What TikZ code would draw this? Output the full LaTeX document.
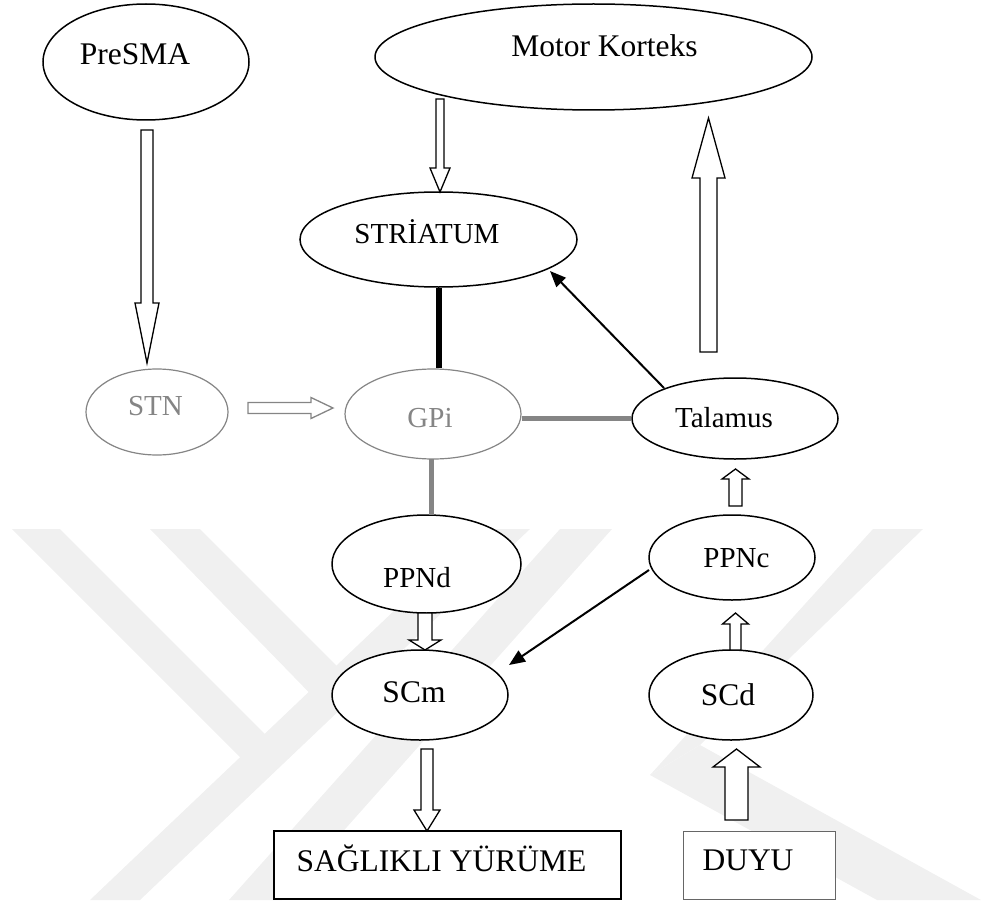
\documentclass[tikz,border=0pt]{standalone}
\usepackage{fontspec}
\setmainfont{Liberation Serif}
\usetikzlibrary{calc,arrows.meta,shapes.geometric}
\definecolor{wmgray}{HTML}{F0F0F0}
\definecolor{midgray}{HTML}{858585}
\newcommand{\blockarr}[6][]{%
  \coordinate (hb) at ($(#3)!#6!(#2)$);
  \draw[blk,#1] ($(#2)!#4!90:(#3)$) -- ($(hb)!#4!90:(#3)$) -- ($(hb)!#5!90:(#3)$) -- (#3)
     -- ($(hb)!#5!-90:(#3)$) -- ($(hb)!#4!-90:(#3)$) -- ($(#2)!#4!-90:(#3)$) -- cycle;}
\begin{document}
\begin{tikzpicture}[x=1pt,y=-1pt,
  ell/.style={ellipse,draw,line width=1.5pt,fill=white,inner sep=0pt},
  gell/.style={ell,draw=midgray,line width=1.2pt},
  lbl/.style={anchor=base,inner sep=0pt,font=\fontsize{29}{34}\selectfont},
  lblb/.style={lbl,font=\fontsize{31.5}{36}\selectfont},
  wm/.style={fill=wmgray,draw=none},
  blk/.style={draw,line width=1.3pt,fill=white,line join=miter},
  thin/.style={line width=2pt,-{Triangle[length=16pt,width=13pt]}}]
\useasboundingbox (0,0) rectangle (981,904);
% watermark
\fill[wm] (480,529) -- (530,529) -- (140,900) -- (90,900) -- cycle;
\fill[wm] (12,529) -- (60,529) -- (289,758) -- (240,757) -- cycle;
\fill[wm] (150,529) -- (200,529) -- (360,689) -- (330,714) -- cycle;
\fill[wm] (560,529) -- (612,529) -- (282,900) -- (229,900) -- cycle;
\fill[wm] (873,529) -- (923,529) -- (700,745) -- (650,775) -- cycle;
\fill[wm] (650,775) -- (700,745) -- (981,900) -- (877,900) -- cycle;
% ellipses
\node[ell,minimum width=206pt,minimum height=116pt] (presma) at (146,62) {};
\node[ell,minimum width=437pt,minimum height=106pt] (motor) at (593.5,57) {};
\node[ell,minimum width=277pt,minimum height=95pt] (striatum) at (438.5,239.5) {};
\node[gell,minimum width=142pt,minimum height=86pt] (stn) at (157,412) {};
\node[gell,minimum width=176pt,minimum height=90pt] (gpi) at (433,414) {};
\node[ell,minimum width=206pt,minimum height=81pt] (talamus) at (735,418.5) {};
\node[ell,minimum width=189pt,minimum height=98pt] (ppnd) at (426.5,564) {};
\node[ell,minimum width=166pt,minimum height=85pt] (ppnc) at (732,557.5) {};
\node[ell,minimum width=176pt,minimum height=90pt] (scm) at (420,695) {};
\node[ell,minimum width=164pt,minimum height=90pt] (scd) at (731,695) {};
% boxes
\node[draw,line width=1.8pt,fill=white,inner sep=0pt,minimum width=347pt,minimum height=68pt] (walk) at (447.5,865) {};
\node[draw=black!60,line width=1pt,fill=white,inner sep=0pt,minimum width=152pt,minimum height=68pt] (duyu) at (759,865) {};
% labels
\node[lblb] (presmaT) at (135,65) {PreSMA};
\node[lblb] (motorT) at (604.5,57) {Motor Korteks};
\node[lbl] (striatumT) at (427,243) {STRİATUM};
\node[lbl,text=midgray] (stnT) at (155.5,415) {STN};
\node[lbl,text=midgray] (gpiT) at (430,427) {GPi};
\node[lbl] (talamusT) at (724,427) {Talamus};
\node[lbl] (ppndT) at (417,587) {PPNd};
\node[lbl] (ppncT) at (736.5,567) {PPNc};
\node[lblb] (scmT) at (414,702) {SCm};
\node[lblb] (scdT) at (728,705) {SCd};
\node[lblb] (walkT) at (441.5,871) {SAĞLIKLI YÜRÜME};
\node[lblb] (duyuT) at (748,870) {DUYU};
% plain connectors
\draw[line width=6pt] (striatum.south) -- (striatum.south |- gpi.north);
\draw[line width=5pt,midgray] (gpi.east |- talamus.west) -- (talamus.west);
\draw[line width=5pt,midgray] (431,459) -- (431,515);
% thin arrows
\coordinate (ts) at (664,388); \coordinate (te) at (550,271);
\draw[thin] (ts) -- (te);
\coordinate (ps) at (649,570); \coordinate (pe) at (509,665);
\draw[thin] (ps) -- (pe);
% block arrows
\coordinate (a1s) at (147,130); \coordinate (a1e) at (147,363);
\blockarr{a1s}{a1e}{6pt}{12pt}{60pt}
\coordinate (a2s) at (248,408); \coordinate (a2e) at (333,408);
\blockarr[draw=midgray]{a2s}{a2e}{5.5pt}{10.5pt}{22pt}
\coordinate (a3s) at (440,99); \coordinate (a3e) at (440,192);
\blockarr{a3s}{a3e}{4pt}{10pt}{24pt}
\coordinate (a4s) at (708.5,352); \coordinate (a4e) at (708.5,118);
\blockarr{a4s}{a4e}{8.5pt}{16.5pt}{60pt}
\coordinate (a5s) at (735.5,506); \coordinate (a5e) at (735.5,469);
\blockarr{a5s}{a5e}{6.5pt}{13.5pt}{10pt}
\coordinate (a6s) at (735.5,650); \coordinate (a6e) at (735.5,613);
\blockarr{a6s}{a6e}{5.5pt}{13pt}{11pt}
\coordinate (a7s) at (425,613); \coordinate (a7e) at (425,650);
\blockarr{a7s}{a7e}{7pt}{16pt}{10pt}
\coordinate (a8s) at (427,749); \coordinate (a8e) at (427,831);
\blockarr{a8s}{a8e}{6pt}{13pt}{21pt}
\coordinate (a9s) at (736.5,820); \coordinate (a9e) at (736.5,749);
\blockarr{a9s}{a9e}{11.5pt}{23.5pt}{18pt}
\end{tikzpicture}
\end{document}
